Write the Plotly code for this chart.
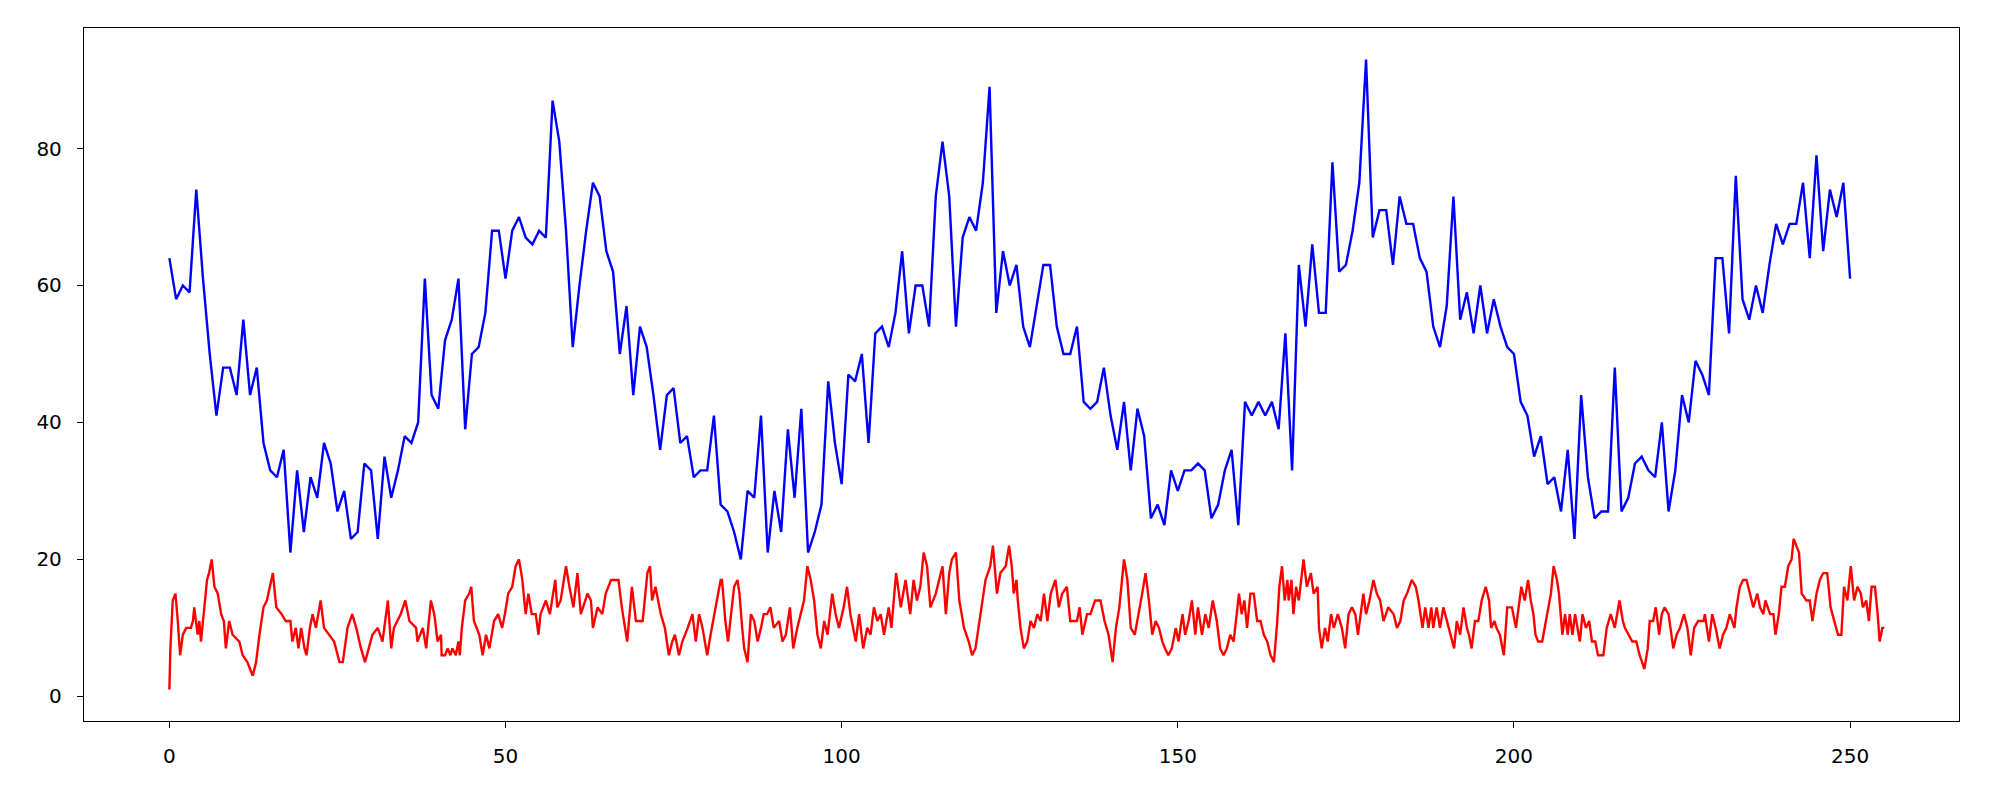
import plotly.graph_objects as go

blue_y = [64, 58, 60, 59, 74, 61, 50, 41, 48, 48, 44, 55, 44, 48, 37, 33, 32, 36, 21, 33,
          24, 32, 29, 37, 34, 27, 30, 23, 24, 34, 33, 23, 35, 29, 33, 38, 37, 40, 61, 44,
          42, 52, 55, 61, 39, 50, 51, 56, 68, 68, 61, 68, 70, 67, 66, 68, 67, 87, 81, 68,
          51, 60, 68, 75, 73, 65, 62, 50, 57, 44, 54, 51, 44, 36, 44, 45, 37, 38, 32, 33,
          33, 41, 28, 27, 24, 20, 30, 29, 41, 21, 30, 24, 39, 29, 42, 21, 24, 28, 46, 37,
          31, 47, 46, 50, 37, 53, 54, 51, 56, 65, 53, 60, 60, 54, 73, 81, 73, 54, 67, 70,
          68, 75, 89, 56, 65, 60, 63, 54, 51, 57, 63, 63, 54, 50, 50, 54, 43, 42, 43, 48,
          41, 36, 43, 33, 42, 38, 26, 28, 25, 33, 30, 33, 33, 34, 33, 26, 28, 33, 36, 25,
          43, 41, 43, 41, 43, 39, 53, 33, 63, 54, 66, 56, 56, 78, 62, 63, 68, 75, 93, 67,
          71, 71, 63, 73, 69, 69, 64, 62, 54, 51, 57, 73, 55, 59, 53, 60, 53, 58, 54, 51,
          50, 43, 41, 35, 38, 31, 32, 27, 36, 23, 44, 32, 26, 27, 27, 48, 27, 29, 34, 35,
          33, 32, 40, 27, 33, 44, 40, 49, 47, 44, 64, 64, 53, 76, 58, 55, 60, 56, 63, 69,
          66, 69, 69, 75, 64, 79, 65, 74, 70, 75, 61]
blue_x = list(range(len(blue_y)))

red_pts = [
    (0, 1), (0.15, 7), (0.5, 14), (0.9, 15), (1.25, 11), (1.6, 6), (2, 9), (2.5, 10), (3.2, 10),
    (3.5, 11), (3.7, 13), (4.2, 9), (4.45, 11), (4.7, 8), (5.1, 12), (5.6, 17), (5.9, 18), (6.3, 20),
    (6.7, 16), (7.2, 15), (7.7, 12), (8.1, 11), (8.4, 7), (8.9, 11), (9.4, 9), (10.4, 8), (10.9, 6),
    (11.6, 5), (12.4, 3), (12.9, 5), (13.4, 9), (14, 13), (14.5, 14), (15.4, 18), (15.9, 13),
    (16.7, 12), (17.3, 11), (18, 11), (18.3, 8), (18.8, 10), (19.2, 7), (19.6, 10), (20.1, 7),
    (20.4, 6), (20.9, 10), (21.3, 12), (21.8, 10), (22.5, 14), (23, 10), (23.8, 9), (24.5, 8),
    (25.3, 5), (25.8, 5), (26.5, 10), (27.2, 12), (27.8, 10), (28.5, 7), (29.1, 5), (29.6, 7),
    (30.2, 9), (31, 10), (31.7, 8), (32.5, 14), (33, 7), (33.4, 10), (33.9, 11), (34.4, 12),
    (35.1, 14), (35.7, 11), (36.7, 10), (36.9, 8), (37.7, 10), (38.2, 7), (38.9, 14), (39.4, 12),
    (39.9, 8), (40.4, 9),
    (40.5, 6), (41, 6), (41.4, 7), (41.8, 6), (42.1, 7), (42.6, 6), (43, 8), (43.2, 6), (43.5, 10),
    (44, 14), (44.6, 15), (44.9, 16), (45.3, 11), (45.7, 10), (46.1, 9), (46.6, 6), (47.1, 9),
    (47.6, 7), (47.9, 9), (48.3, 11), (48.9, 12), (49.5, 10), (49.9, 12), (50.4, 15), (51, 16),
    (51.5, 19), (52, 20), (52.5, 17), (53, 12), (53.4, 15), (53.9, 12), (54.5, 12), (54.9, 9),
    (55.2, 12), (56, 14), (56.6, 12), (57.4, 17), (57.7, 13), (58.2, 14), (59, 19), (59.5, 16),
    (60.1, 13), (60.7, 18), (61.2, 12), (62.2, 15), (62.7, 14), (63, 10), (63.7, 13), (64.4, 12),
    (64.9, 15), (65.7, 17), (66.8, 17), (67.3, 13), (68.1, 8), (68.8, 16), (69.4, 11), (70.4, 11),
    (71.1, 18), (71.5, 19), (71.8, 14), (72.3, 16), (73.1, 12), (73.7, 10), (74.3, 6), (74.8, 8),
    (75.2, 9), (75.8, 6), (76.3, 8), (77.1, 10), (77.8, 12), (78.3, 8), (78.8, 12), (79.3, 10),
    (80, 6), (80.5, 9), (81.3, 13), (82, 17),
    (82.2, 17), (82.7, 11), (83.1, 8), (83.6, 13), (84, 16), (84.5, 17), (84.8, 15), (85.2, 10),
    (85.5, 7), (86, 5), (86.5, 12), (87, 11), (87.5, 8), (88, 10), (88.4, 12), (88.9, 12), (89.4, 13),
    (89.9, 10), (90.7, 11), (91.2, 8), (91.7, 9), (92.3, 13), (92.8, 7), (93.4, 10), (93.9, 12),
    (94.4, 14), (94.9, 19), (95.4, 17), (95.9, 14), (96.4, 9), (96.9, 7), (97.4, 11), (97.9, 9),
    (98.6, 15), (99.1, 12), (99.6, 10), (100.3, 13), (100.8, 16), (101.3, 12), (102.1, 8),
    (102.6, 12), (103.2, 7), (103.8, 10), (104.3, 9), (104.8, 13), (105.3, 11), (105.8, 12),
    (106.3, 9), (107, 13), (107.4, 10), (108.1, 18), (108.8, 13), (109.5, 17), (110.2, 12),
    (110.7, 17), (111.2, 14), (111.7, 16), (112.2, 21), (112.7, 19), (113.2, 13), (114, 15),
    (114.5, 17), (115, 19), (115.5, 12), (116, 18), (116.4, 20), (117, 21), (117.5, 14), (118.2, 10),
    (118.9, 8), (119.4, 6), (119.9, 7), (120.7, 12), (121.4, 17), (122.1, 19), (122.5, 22),
    (123.1, 15), (123.6, 18),
    (124.4, 19), (124.9, 22), (125.3, 19), (125.6, 15), (126, 17), (126.2, 14), (126.6, 10),
    (127.1, 7), (127.6, 8), (128.1, 11), (128.6, 10), (129.1, 12), (129.6, 11), (130.1, 15),
    (130.6, 11), (131.1, 15), (131.8, 17), (132.3, 13), (132.8, 15), (133.5, 16), (134, 11),
    (135, 11), (135.4, 13), (135.8, 9), (136.5, 12), (137, 12), (137.7, 14), (138.5, 14), (139.1, 11),
    (139.7, 9), (140.3, 5), (140.8, 10), (141.3, 13), (142, 20), (142.5, 17), (143, 10), (143.6, 9),
    (144.2, 12), (144.7, 15), (145.2, 18), (145.7, 14), (146.2, 9), (146.7, 11), (147.2, 10),
    (147.7, 8), (148.1, 7), (148.6, 6), (149.1, 7), (149.7, 10), (150.1, 8), (150.7, 12), (151.1, 9),
    (151.6, 11), (152.1, 14), (152.6, 9), (153, 13), (153.6, 9), (154.1, 12), (154.6, 10),
    (155.2, 14), (155.8, 11), (156.3, 7), (156.8, 6), (157.3, 7), (157.8, 9), (158.3, 8), (158.8, 13),
    (159.1, 15), (159.5, 12), (159.9, 14), (160.3, 10), (160.8, 15), (161.3, 15), (161.8, 11),
    (162.3, 11), (162.8, 9), (163.3, 8), (163.8, 6), (164.3, 5), (164.8, 11), (165.1, 16),
    (165.5, 19), (165.9, 14), (166.3, 17),
    (166.5, 14), (166.9, 17), (167.2, 12), (167.6, 16), (168, 14), (168.4, 17), (168.7, 20),
    (169.2, 16), (169.8, 18), (170.2, 15), (170.8, 16), (171, 10), (171.4, 7), (171.9, 10),
    (172.3, 8), (172.8, 12), (173.2, 10), (173.8, 12), (174.4, 10), (174.9, 7), (175.4, 12),
    (175.9, 13), (176.4, 12), (176.8, 9), (177.3, 13), (177.6, 15), (178, 12), (178.5, 14),
    (179.1, 17), (179.6, 15), (180.1, 14), (180.6, 11), (181.3, 13), (182.1, 12), (182.6, 10),
    (183.1, 11), (183.6, 14), (184.1, 15), (184.8, 17), (185.4, 16), (185.8, 14), (186.4, 10),
    (186.8, 13), (187.3, 10), (187.7, 13), (188, 10), (188.5, 13), (189, 10), (189.5, 13), (190, 11),
    (190.5, 9), (191.1, 7), (191.5, 11), (192, 9), (192.5, 13), (193, 10), (193.3, 9), (193.7, 7),
    (194.2, 11), (194.7, 11), (195.2, 14), (195.8, 16), (196.3, 14), (196.6, 10), (197.1, 11),
    (197.4, 10), (197.9, 9), (198.5, 6), (199, 13), (199.7, 13), (200.3, 10), (200.6, 12),
    (201.1, 16), (201.6, 14), (202.1, 17), (202.5, 14), (202.9, 12), (203.2, 9), (203.6, 8),
    (204.2, 8), (204.6, 10), (205, 12), (205.5, 15), (205.9, 19), (206.4, 17), (206.7, 15), (207.2, 9),
    (207.6, 12), (208, 9), (208.3, 12), (208.7, 9), (209.1, 12), (209.5, 10), (209.8, 8), (210.2, 12),
    (210.7, 10), (211.2, 11), (211.6, 8), (212.1, 8), (212.5, 6), (213.3, 6), (213.8, 10), (214.4, 12),
    (215, 10), (215.7, 14), (216.2, 11), (216.5, 10), (217, 9), (217.6, 8), (218.2, 8), (218.7, 6),
    (219.4, 4), (219.9, 7), (220.2, 11), (220.7, 11), (221.1, 13), (221.6, 9), (222, 12), (222.4, 13),
    (223, 12), (223.7, 7), (224.2, 9), (224.7, 10), (225.3, 12), (225.8, 10), (226.3, 6), (226.8, 10),
    (227.4, 11), (228.2, 11), (228.4, 12), (229, 8), (229.5, 12), (230, 10), (230.6, 7), (231.1, 9),
    (231.6, 10), (232.1, 12), (232.8, 10), (233.1, 13), (233.6, 16), (234.1, 17), (234.6, 17),
    (235.1, 15), (235.6, 13), (236.2, 15), (236.6, 13), (237.1, 12), (237.4, 14), (238.1, 12),
    (238.6, 12), (238.9, 9), (239.4, 12), (239.8, 16), (240.3, 16), (240.8, 19), (241.3, 20),
    (241.6, 23), (242, 22), (242.4, 21), (242.8, 15), (243.5, 14), (244, 14), (244.4, 11), (245, 15),
    (245.5, 17), (246, 18), (246.6, 18), (247.1, 13), (247.6, 11), (248.2, 9), (248.7, 9), (249.1, 16),
    (249.6, 14), (250.1, 19), (250.6, 14), (251.1, 16), (251.6, 15), (251.9, 13), (252.4, 14),
    (252.8, 11), (253.2, 16), (253.7, 16), (254.1, 12), (254.4, 8), (254.8, 10), (255.1, 10),
]
red_x = [p[0] for p in red_pts]
red_y = [p[1] for p in red_pts]

x_ticks = [0, 50, 100, 150, 200, 250]
y_ticks = [0, 20, 40, 60, 80]

fig = go.Figure()
fig.add_trace(go.Scatter(x=blue_x, y=blue_y, mode="lines",
                         line=dict(color="#0000ff", width=2.4), showlegend=False))
fig.add_trace(go.Scatter(x=red_x, y=red_y, mode="lines",
                         line=dict(color="#ff0000", width=2.4), showlegend=False))

axis_common = dict(showline=True, linecolor="black", linewidth=1.3, mirror=True,
                   ticks="outside", ticklen=6, tickwidth=1.3, tickcolor="black",
                   showgrid=False, zeroline=False, ticklabelstandoff=11,
                   tickfont=dict(family="DejaVu Sans", size=20, color="black"))

fig.update_layout(
    width=1992, height=792,
    margin=dict(l=76, r=41, t=20, b=79),
    paper_bgcolor="white", plot_bgcolor="white",
    xaxis=dict(range=[-12.7, 266.2], tickvals=x_ticks, **axis_common),
    yaxis=dict(range=[-3.6, 97.6], tickvals=y_ticks, **axis_common),
)
fig.write_html("out.html")
